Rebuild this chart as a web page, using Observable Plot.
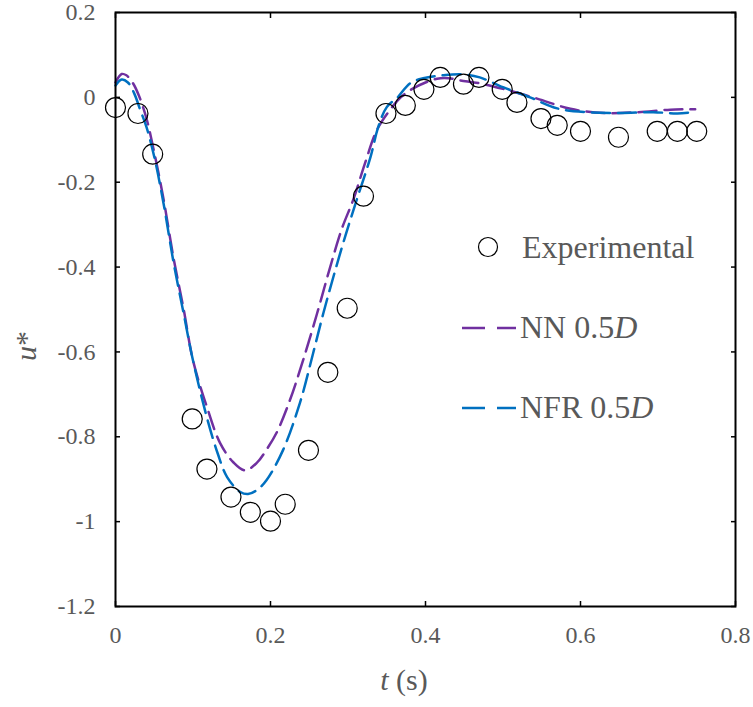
<!DOCTYPE html>
<html><head><meta charset="utf-8">
<script src="https://cdn.jsdelivr.net/npm/d3@7"></script>
<script src="https://cdn.jsdelivr.net/npm/@observablehq/plot@0.6"></script>
<style>body{margin:0;background:#fff} svg{display:block}</style>
</head><body><div id="chart"></div>
<script>
// Experimental points
const expT = [0, 0.029, 0.048, 0.099, 0.118, 0.149, 0.174, 0.2, 0.219, 0.249, 0.274, 0.299, 0.32, 0.349, 0.374, 0.398, 0.419, 0.449, 0.469, 0.499, 0.518, 0.549, 0.57, 0.6, 0.649, 0.699, 0.725, 0.75];
const expU = [-0.024, -0.038, -0.134, -0.758, -0.876, -0.942, -0.978, -0.999, -0.959, -0.832, -0.648, -0.497, -0.233, -0.038, -0.019, 0.019, 0.047, 0.031, 0.047, 0.019, -0.012, -0.05, -0.066, -0.08, -0.094, -0.08, -0.08, -0.08];
// NN 0.5D
const nnT = [0, 0.008, 0.014, 0.022, 0.03, 0.04, 0.05, 0.062, 0.075, 0.088, 0.1, 0.118, 0.135, 0.152, 0.167, 0.182, 0.195, 0.208, 0.225, 0.242, 0.26, 0.277, 0.292, 0.307, 0.322, 0.337, 0.354, 0.368, 0.383, 0.4, 0.415, 0.43, 0.445, 0.47, 0.5, 0.544, 0.587, 0.63, 0.673, 0.716, 0.748];
const nnU = [0.035, 0.055, 0.052, 0.035, 0.005, -0.05, -0.13, -0.24, -0.38, -0.5, -0.62, -0.73, -0.815, -0.86, -0.879, -0.862, -0.83, -0.79, -0.714, -0.62, -0.51, -0.4, -0.31, -0.24, -0.155, -0.078, -0.03, 0.0, 0.02, 0.035, 0.044, 0.045, 0.04, 0.033, 0.02, -0.003, -0.027, -0.037, -0.035, -0.029, -0.028];
// NFR 0.5D
const nfrT = [0, 0.008, 0.016, 0.024, 0.032, 0.04, 0.05, 0.062, 0.075, 0.088, 0.1, 0.118, 0.132, 0.144, 0.161, 0.171, 0.183, 0.195, 0.216, 0.238, 0.255, 0.268, 0.281, 0.296, 0.311, 0.329, 0.339, 0.35, 0.364, 0.38, 0.397, 0.423, 0.449, 0.47, 0.5, 0.535, 0.57, 0.609, 0.651, 0.694, 0.725, 0.745];
const nfrU = [0.028, 0.042, 0.035, 0.01, -0.03, -0.07, -0.14, -0.25, -0.39, -0.51, -0.62, -0.755, -0.84, -0.895, -0.93, -0.935, -0.925, -0.902, -0.832, -0.72, -0.603, -0.51, -0.424, -0.33, -0.243, -0.141, -0.07, -0.023, 0.0, 0.033, 0.045, 0.052, 0.054, 0.047, 0.024, 0.0, -0.026, -0.035, -0.037, -0.035, -0.038, -0.035];

const xTicks = [0, 0.2, 0.4, 0.6, 0.8];
const yTicks = [0.2, 0, -0.2, -0.4, -0.6, -0.8, -1, -1.2];
const seriesNames = ["Experimental", "NN 0.5D", "NFR 0.5D"];
const colors = {nn: "#7030A0", nfr: "#0070C0"};

const exp = expT.map((t, i) => ({t, u: expU[i]}));
const nn = nnT.map((t, i) => ({t, u: nnU[i]}));
const nfr = nfrT.map((t, i) => ({t, u: nfrU[i]}));

const FONT = "'Liberation Serif', 'Times New Roman', 'DejaVu Serif', serif";
const GRAY = "#595959";
const fmt = d => String(+d.toFixed(1));

const plot = Plot.plot({
  width: 753, height: 707,
  marginLeft: 115, marginRight: 18, marginTop: 12, marginBottom: 101,
  style: {fontFamily: FONT, background: "white"},
  x: {domain: [0, 0.8]},
  y: {domain: [-1.2, 0.2]},
  marks: [
    Plot.axisX(xTicks, {anchor: "bottom", tickSize: -5, tickPadding: 24, tickFormat: fmt, fontSize: 24, fontFamily: FONT, fill: GRAY, stroke: "black", strokeWidth: 1.5, label: null}),
    Plot.axisX(xTicks, {anchor: "top", tickSize: -5, tickFormat: () => "", stroke: "black", strokeWidth: 1.5, label: null}),
    Plot.axisY(yTicks, {anchor: "left", tickSize: -5, tickPadding: 25, tickFormat: fmt, fontSize: 24, fontFamily: FONT, fill: GRAY, stroke: "black", strokeWidth: 1.5, label: null}),
    Plot.axisY(yTicks, {anchor: "right", tickSize: -5, tickFormat: () => "", stroke: "black", strokeWidth: 1.5, label: null}),
    Plot.line(nn, {x: "t", y: "u", stroke: colors.nn, strokeWidth: 2.5, strokeDasharray: "18,8", curve: "catmull-rom"}),
    Plot.line(nfr, {x: "t", y: "u", stroke: colors.nfr, strokeWidth: 2.5, strokeDasharray: "18,8", curve: "catmull-rom"}),
    Plot.dot(exp, {x: "t", y: "u", r: 10, stroke: "black", strokeWidth: 1.2, fill: "none"}),
    Plot.frame({stroke: "black", strokeWidth: 2})
  ]
});

const svg = d3.select(plot);
// Axis titles
const xt = svg.append("text").attr("x", 404).attr("y", 690).attr("text-anchor", "middle")
  .style("font-family", FONT).attr("font-size", 30).attr("fill", GRAY);
xt.append("tspan").attr("font-style", "italic").text("t");
xt.append("tspan").text(" (s)");
const yt = svg.append("text").attr("transform", "translate(36,346) rotate(-90)").attr("text-anchor", "middle")
  .style("font-family", FONT).attr("font-size", 30).attr("fill", GRAY);
yt.append("tspan").attr("font-style", "italic").text("u");
yt.append("tspan").text("*");

// Legend
const lg = svg.append("g").style("font-family", FONT).attr("font-size", 32).attr("fill", GRAY).attr("text-anchor", "start");
lg.append("circle").attr("cx", 488).attr("cy", 247).attr("r", 9.5).attr("fill", "none").attr("stroke", "black").attr("stroke-width", 1.2);
lg.append("text").attr("x", 522).attr("y", 258).text(seriesNames[0]);
[[seriesNames[1], colors.nn, 328, 338], [seriesNames[2], colors.nfr, 408, 418]].forEach(([name, c, ly, ty]) => {
  lg.append("line").attr("x1", 462).attr("x2", 516).attr("y1", ly).attr("y2", ly)
    .attr("stroke", c).attr("stroke-width", 2.5).attr("stroke-dasharray", "23,12");
  const t = lg.append("text").attr("x", 520).attr("y", ty);
  t.append("tspan").text(name.slice(0, -1));
  t.append("tspan").attr("font-style", "italic").text("D");
});

document.getElementById("chart").appendChild(plot);
</script>
</body></html>
